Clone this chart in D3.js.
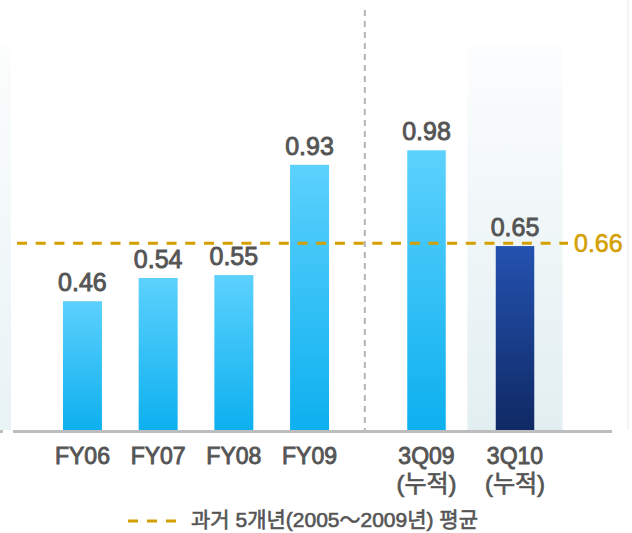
<!DOCTYPE html>
<html><head><meta charset="utf-8">
<script src="https://cdn.jsdelivr.net/npm/d3@7/dist/d3.min.js"></script>
<style>
html,body{margin:0;padding:0;background:#fff;}
svg{display:block;}
text{font-family:"Liberation Sans",Arial,"Noto Sans CJK KR",sans-serif;}
</style></head>
<body>
<svg id="chart" width="632" height="533"></svg>
<script>
// ---- data ----
const annualCats = ["FY06","FY07","FY08","FY09"];
const annualVals = [0.46,0.54,0.55,0.93];
const cumCats = ["3Q09","3Q10"];
const cumLine2 = ["(누적)","(누적)"];
const cumVals = [0.98,0.65];
const avgValue = 0.66;
const avgLabel = "0.66";
const legendLabel = "과거 5개년(2005～2009년) 평균";

const W = 632, H = 533;
const axisY = 430;
const svg = d3.select("#chart");
const defs = svg.append("defs");

function grad(id, c1, c2){
  const g = defs.append("linearGradient").attr("id",id).attr("x1",0).attr("y1",0).attr("x2",0).attr("y2",1);
  g.append("stop").attr("offset","0%").attr("stop-color",c1);
  g.append("stop").attr("offset","100%").attr("stop-color",c2);
}
grad("gLight","#5cd1fd","#0db0ef");
grad("gDark","#2452b0","#0f2964");
grad("gBg","#fcfdfe","#e2eff1");
grad("gEdge","#fcfdfd","#e8f3f5");

const y = d3.scaleLinear().domain([0,1]).range([434.7,144.5]);
const xA = d3.scaleBand().domain(annualCats).range([44.6,347.4]).paddingInner(0.485).paddingOuter(0.2425);
const xC = d3.scaleBand().domain(cumCats).range([382.25,559.25]).paddingInner(0.565).paddingOuter(0.2825);

// left edge panel
svg.append("rect").attr("x",0).attr("y",45).attr("width",11).attr("height",axisY-45).attr("fill","url(#gEdge)");
svg.append("line").attr("x1",628).attr("x2",628).attr("y1",0).attr("y2",axisY).attr("stroke","#f3f6f7").attr("stroke-width",2);

// highlight background for 3Q10
const hiCat = cumCats[1];
const bgW = xC.step()*1.075;
svg.append("rect")
  .attr("x", xC(hiCat)+xC.bandwidth()/2 - bgW/2)
  .attr("y",45).attr("width",bgW).attr("height",axisY-45)
  .attr("fill","url(#gBg)");

// separator
const sepX = (xA.range()[1]+xC.range()[0])/2;
svg.append("line").attr("x1",sepX).attr("x2",sepX).attr("y1",10).attr("y2",axisY)
  .attr("stroke","#b4b4b4").attr("stroke-width",2).attr("stroke-dasharray","6,5");

const annual = annualCats.map((c,i)=>({c, v:annualVals[i], x:xA(c), w:xA.bandwidth(), fill:"url(#gLight)"}));
const cum = cumCats.map((c,i)=>({c, v:cumVals[i], x:xC(c), w:xC.bandwidth(), fill: i===1?"url(#gDark)":"url(#gLight)"}));
const all = annual.concat(cum);

svg.selectAll("rect.bar").data(all).enter().append("rect").attr("class","bar")
  .attr("x",d=>d.x).attr("width",d=>d.w)
  .attr("y",d=>y(d.v)).attr("height",d=>axisY-y(d.v))
  .attr("fill",d=>d.fill);

// axis line
svg.append("line").attr("x1",13).attr("x2",612).attr("y1",axisY+1.5).attr("y2",axisY+1.5)
  .attr("stroke","#bdbdbd").attr("stroke-width",3);
svg.append("line").attr("x1",0).attr("x2",3).attr("y1",axisY+1.5).attr("y2",axisY+1.5)
  .attr("stroke","#bdbdbd").attr("stroke-width",3);

// average line
const avgY = y(avgValue);
svg.append("line").attr("x1",17).attr("x2",568).attr("y1",avgY).attr("y2",avgY)
  .attr("stroke","#d49f00").attr("stroke-width",3).attr("stroke-dasharray","10,8.7");
svg.append("text").attr("x",574).attr("y",avgY+9).attr("font-size",25)
  .attr("fill","#d49f00").attr("stroke","#d49f00").attr("stroke-width",0.6).text(avgLabel);

// value labels
svg.selectAll("text.val").data(all).enter().append("text").attr("class","val")
  .attr("x",d=>d.x+d.w/2).attr("y",d=>y(d.v)-10)
  .attr("text-anchor","middle").attr("font-size",25).attr("fill","#555")
  .attr("stroke","#555").attr("stroke-width",0.9)
  .text(d=>d.v.toFixed(2));

// category labels
svg.selectAll("text.cat").data(all).enter().append("text").attr("class","cat")
  .attr("x",d=>d.x+d.w/2).attr("y",464)
  .attr("text-anchor","middle").attr("font-size",23).attr("fill","#555")
  .attr("stroke","#555").attr("stroke-width",0.9)
  .text(d=>d.c);
svg.selectAll("text.cat2").data(cum).enter().append("text").attr("class","cat2")
  .attr("x",d=>d.x+d.w/2).attr("y",492)
  .attr("text-anchor","middle").attr("font-size",24).attr("fill","#555")
  .attr("stroke","#555").attr("stroke-width",0.7)
  .text((d,i)=>cumLine2[i]);

// legend
svg.append("line").attr("x1",128).attr("x2",176).attr("y1",521).attr("y2",521)
  .attr("stroke","#d49f00").attr("stroke-width",3).attr("stroke-dasharray","10,9");
svg.append("text").attr("x",191).attr("y",527).attr("font-size",21).attr("fill","#555")
  .attr("stroke","#555").attr("stroke-width",0.6)
  .style("font-family","'Liberation Sans','Noto Sans CJK KR',sans-serif")
  .text(legendLabel);
</script>
</body></html>
